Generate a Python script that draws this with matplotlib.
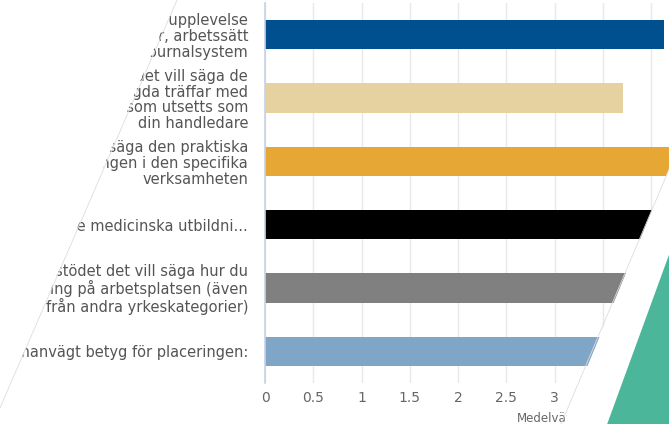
import matplotlib
matplotlib.use("Agg")
import matplotlib.pyplot as plt
from matplotlib.patches import Polygon
from matplotlib.lines import Line2D
from matplotlib.ticker import FormatStrFormatter

# data (right ends of the last bars are hidden by the slide overlay)
categories = [
    "Introduktion - din upplevelse\nav introduktionen till rutiner, arbetssätt\noch journalsystem",
    "Handledning - det vill säga de\nschemalagda träffar med\nden person som utsetts som\ndin handledare",
    "Utbildningen det vill säga den praktiska\nutbildningen i den specifika\nverksamheten",
    "Koppling till de medicinska utbildni...",
    "Kollegiala stödet det vill säga hur du\nupplevde bemötande och mottagning på arbetsplatsen (även\nfrån andra yrkeskategorier)",
    "Sammanvägt betyg för placeringen:",
]
values = [4.13, 3.71, 4.35, 4.3, 4.1, 4.0]
colors = ["#00508f", "#e5d2a0", "#e6a735", "#000000", "#808080", "#7fa6c7"]
xticks = [0, 0.5, 1, 1.5, 2, 2.5, 3, 3.5, 4]

W, H = 669, 424


def fx(x):
    return x / W


def fy(y):
    return 1 - y / H


fig = plt.figure(figsize=(W / 100, H / 100), dpi=100)
fig.patch.set_facecolor("white")

px_per_unit = 96.5
ax = fig.add_axes([fx(265), fy(383), 4.5 * px_per_unit / W, 380 / H])
ax.barh(range(len(values)), values, height=0.46, color=colors, zorder=2)
ax.set_xlim(0, 4.5)
ax.set_ylim(len(values) - 0.5, -0.5)

ax.set_xticks(xticks)
ax.xaxis.set_major_formatter(FormatStrFormatter("%g"))
ax.set_yticks(range(len(categories)))
ax.set_yticklabels(categories)
ax.tick_params(axis="both", length=0, colors="#666666")
ax.tick_params(axis="y", pad=12.2, labelsize=10.5)
ax.tick_params(axis="x", pad=5.5, labelsize=10)
for lab in ax.get_yticklabels():
    lab.set_linespacing(1.07)
    lab.set_color("#555555")

ax.grid(axis="x", color="#e8e8e8", linewidth=1, zorder=0)
for s in ["top", "right", "bottom"]:
    ax.spines[s].set_visible(False)
ax.spines["left"].set_color("#c5d3e6")
ax.spines["left"].set_linewidth(1.2)

fig.text(fx(517), fy(419), "Medelvärde", fontsize=8.5, color="#666666",
         ha="left", va="center", zorder=1)

# slide overlay: white wedges and the green corner
left_wedge = [(0, -5), (177, -5), (-7, 424), (-20, 430)]
right_band = [(561, 430), (741, -5), (800, -5), (800, 430)]
green = [(605, 430), (689, 200), (800, 200), (800, 430)]
for pts, c in [(left_wedge, "white"), (right_band, "white"), (green, "#4bb699")]:
    fig.add_artist(Polygon([(fx(x), fy(y)) for x, y in pts], closed=True,
                           transform=fig.transFigure, facecolor=c,
                           edgecolor="none", zorder=5))
for (x0, y0), (x1, y1) in [((177, 0), (-7, 424)), ((741, 0), (561, 424))]:
    fig.add_artist(Line2D([fx(x0), fx(x1)], [fy(y0), fy(y1)],
                          transform=fig.transFigure, color="#dddddd",
                          linewidth=0.6, zorder=6))

fig.savefig("out.png", dpi=100)
